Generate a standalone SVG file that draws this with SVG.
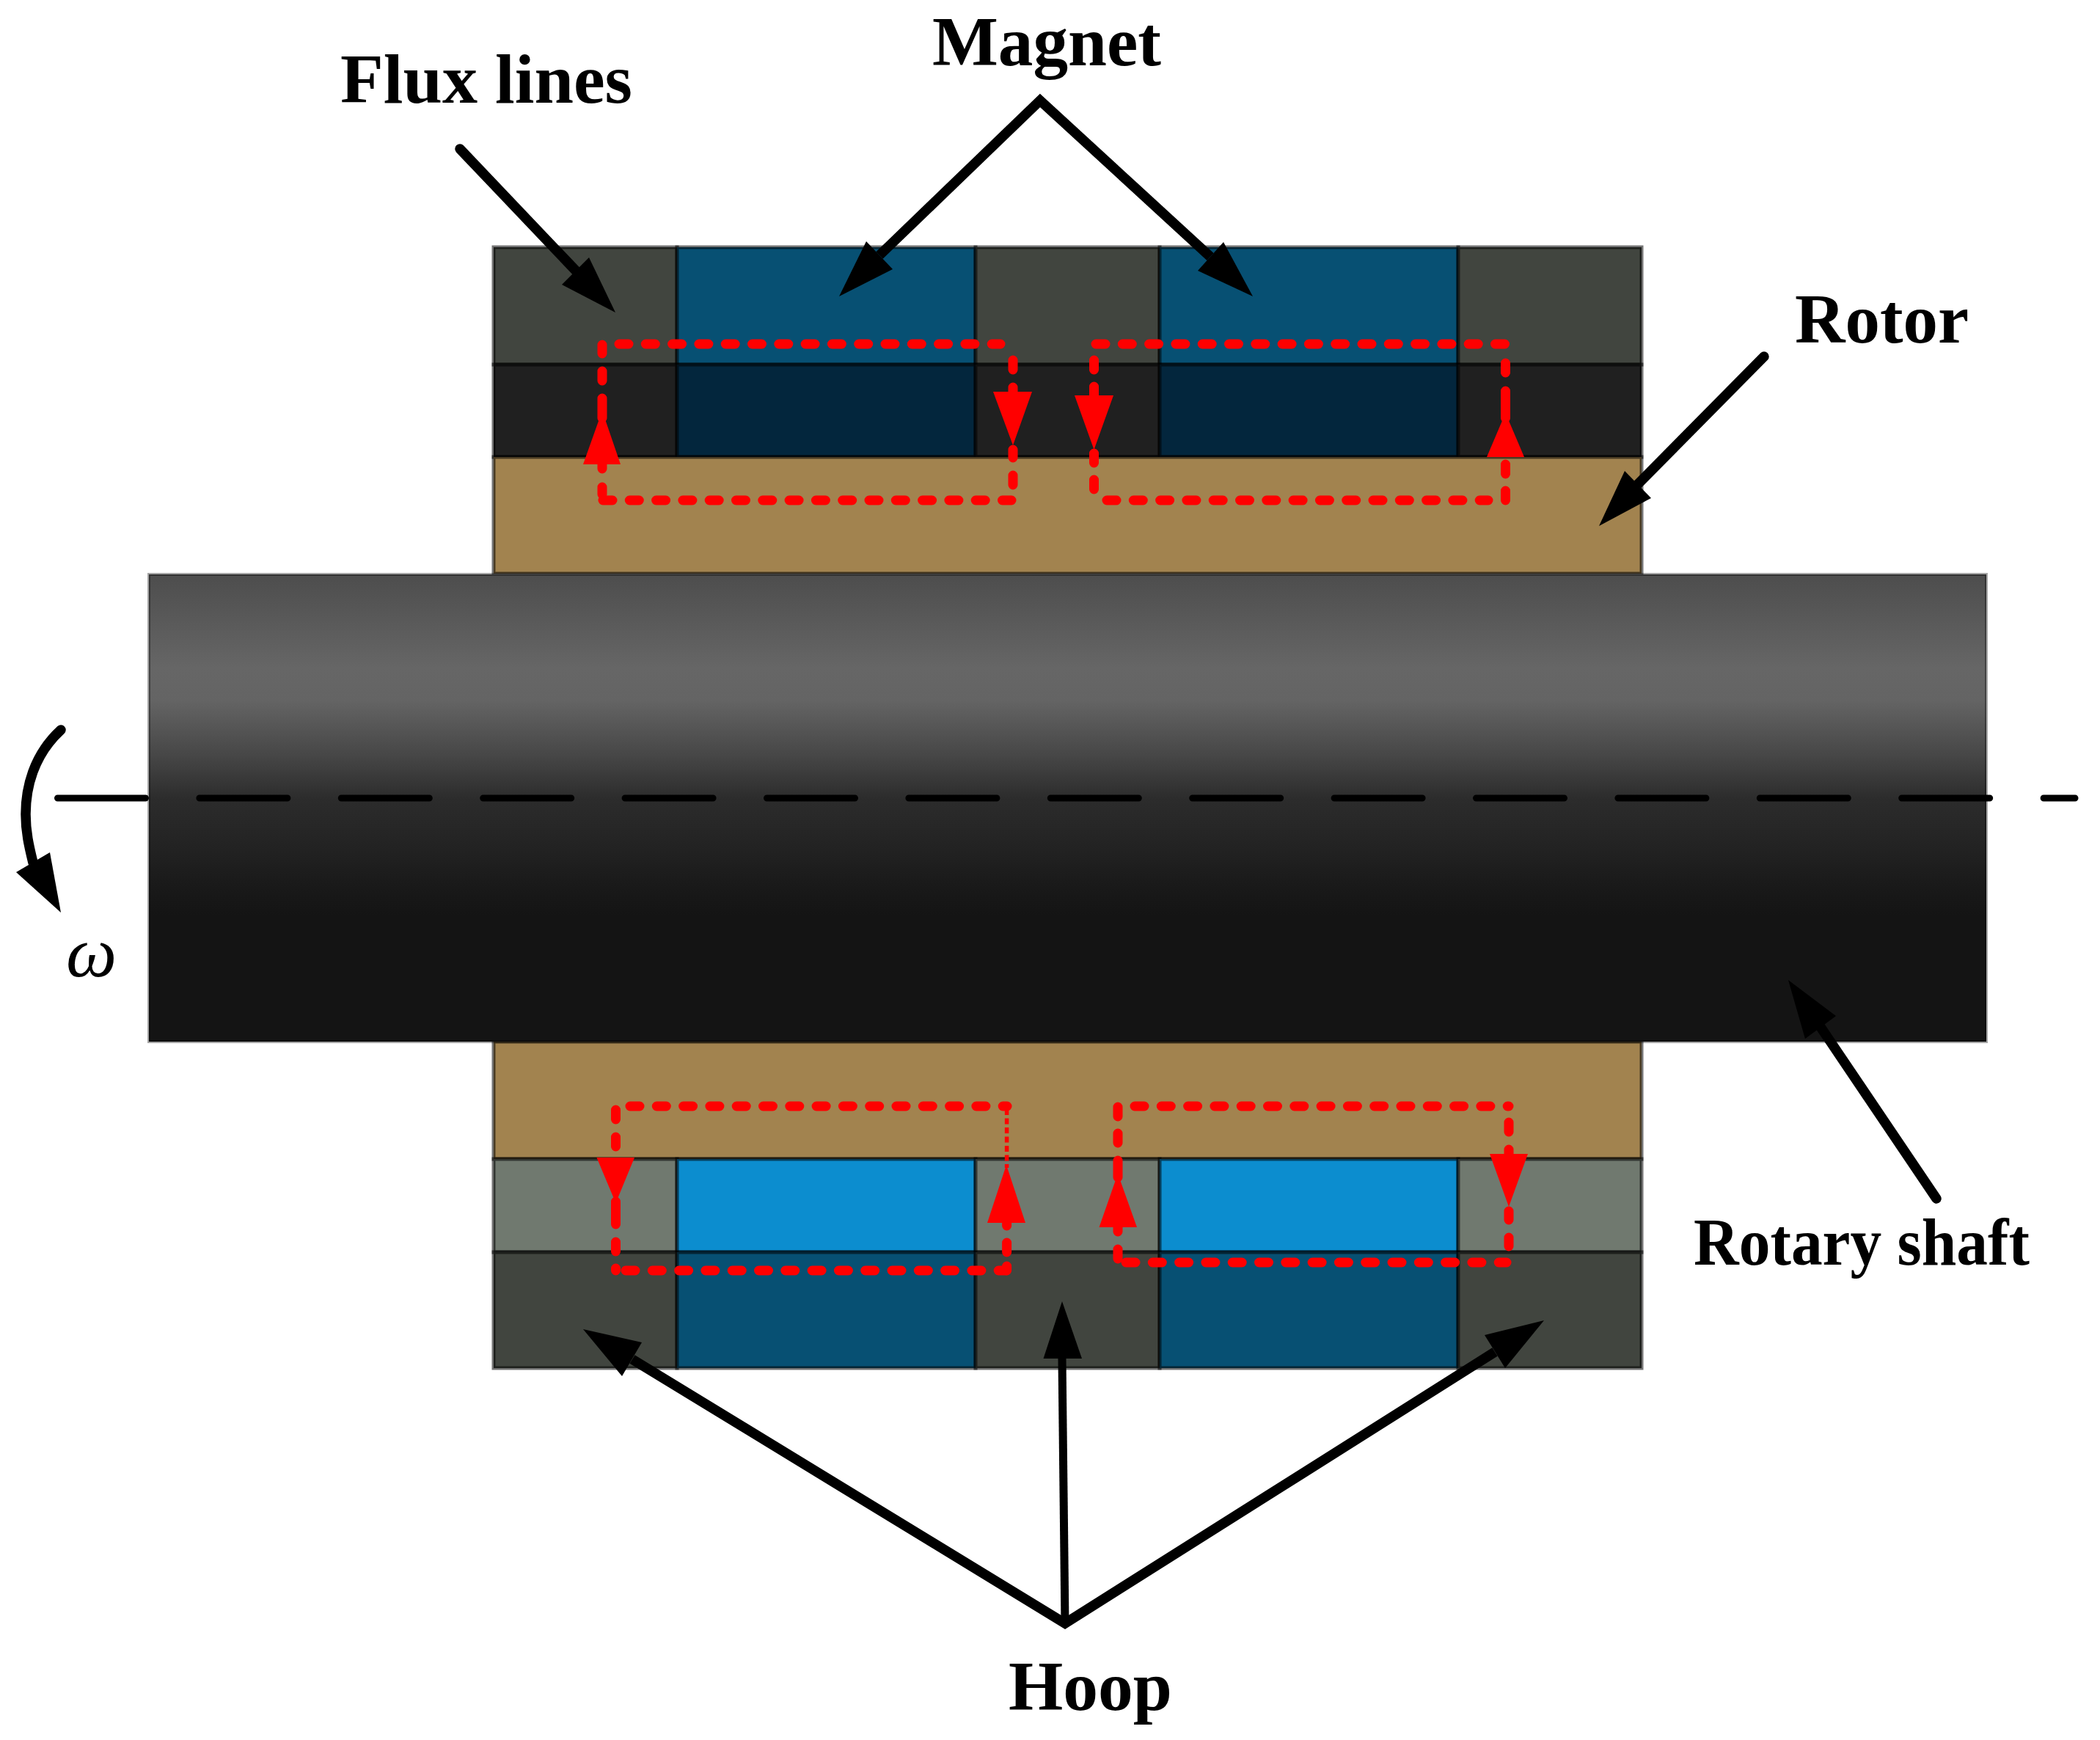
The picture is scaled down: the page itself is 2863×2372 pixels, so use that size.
<svg xmlns="http://www.w3.org/2000/svg" width="2863" height="2372" viewBox="0 0 2863 2372">
<style>
.b{stroke:#000;stroke-opacity:.55;stroke-width:5}
.hoop{fill:#41453f}.mag{fill:#075073}
.hoopD{fill:#202020}.magD{fill:#03263d}
.hoopL{fill:#70796f}.magL{fill:#0c8dcf}
.rotor{fill:#a2834f}
.flux{fill:none;stroke:#f00;stroke-width:13;stroke-linecap:round;stroke-dasharray:13 23.3}
.seg{fill:none;stroke:#f00;stroke-width:13;stroke-linecap:round}
.fine{fill:none;stroke:#f00;stroke-width:5.5;stroke-dasharray:8 4.5}
.rh{fill:#f00}
.ln{fill:none;stroke:#000;stroke-width:13.5;stroke-linecap:round;stroke-linejoin:miter}
.ah{fill:#000}
.axis{fill:none;stroke:#000;stroke-width:9;stroke-linecap:round;stroke-dasharray:120 73.4}
.t{font-family:"Liberation Serif","Times New Roman",serif;font-weight:bold;font-size:96px;fill:#000}
.w{font-family:"Liberation Serif","Times New Roman",serif;font-style:italic;font-size:98px;fill:#000}
</style>
<defs>
<linearGradient id="sg" gradientUnits="userSpaceOnUse" x1="0" y1="783" x2="0" y2="1420">
<stop offset="0" stop-color="#4d4d4d"/>
<stop offset=".2" stop-color="#666"/>
<stop offset=".27" stop-color="#646464"/>
<stop offset=".39" stop-color="#464646"/>
<stop offset=".48" stop-color="#2c2c2c"/>
<stop offset=".59" stop-color="#222"/>
<stop offset=".66" stop-color="#1a1a1a"/>
<stop offset=".73" stop-color="#141414"/>
<stop offset="1" stop-color="#141414"/>
</linearGradient>
</defs>
<rect width="2863" height="2372" fill="#fff"/>

<g id="top-assembly">
<g id="top-hoop" class="b">
<rect class="hoop" x="673" y="337" width="250" height="160"/>
<rect class="mag" x="923" y="337" width="407" height="160"/>
<rect class="hoop" x="1330" y="337" width="251" height="160"/>
<rect class="mag" x="1581" y="337" width="407" height="160"/>
<rect class="hoop" x="1988" y="337" width="250" height="160"/>
</g>
<g id="top-magnet" class="b">
<rect class="hoopD" x="673" y="497" width="250" height="126"/>
<rect class="magD" x="923" y="497" width="407" height="126"/>
<rect class="hoopD" x="1330" y="497" width="251" height="126"/>
<rect class="magD" x="1581" y="497" width="407" height="126"/>
<rect class="hoopD" x="1988" y="497" width="250" height="126"/>
</g>
<rect id="top-rotor" class="rotor b" x="673" y="623" width="1565" height="159"/>
</g>

<g id="bottom-assembly">
<rect id="bottom-rotor" class="rotor b" x="673" y="1420" width="1565" height="160"/>
<g id="bottom-magnet" class="b">
<rect class="hoopL" x="673" y="1580" width="250" height="127"/>
<rect class="magL" x="923" y="1580" width="407" height="127"/>
<rect class="hoopL" x="1330" y="1580" width="251" height="127"/>
<rect class="magL" x="1581" y="1580" width="407" height="127"/>
<rect class="hoopL" x="1988" y="1580" width="250" height="127"/>
</g>
<g id="bottom-hoop" class="b">
<rect class="hoop" x="673" y="1707" width="250" height="158"/>
<rect class="mag" x="923" y="1707" width="407" height="158"/>
<rect class="hoop" x="1330" y="1707" width="251" height="158"/>
<rect class="mag" x="1581" y="1707" width="407" height="158"/>
<rect class="hoop" x="1988" y="1707" width="250" height="158"/>
</g>
</g>

<rect id="shaft" x="203" y="783" width="2505" height="637" fill="url(#sg)" stroke="#000" stroke-opacity=".35" stroke-width="4"/>

<g id="flux-lines">
<path class="flux" d="M844 469H1364M822 682H1379"/>
<path class="seg" d="M821 470V482M821 506V519M821 543V570M821 626V639M821 664V674M1381 491V504M1381 528V545M1381 613V624M1381 648V661"/>
<path class="flux" d="M1494 469H2052M1509 682H2029"/>
<path class="seg" d="M1491.500 491V504M1491.500 527V545M1491.500 618V631M1491.500 654V667M2052.500 495V508M2052.500 533V570M2052.500 633V646M2052.500 669V682"/>
<path class="flux" d="M859 1508H1373M853 1732H1372"/>
<path class="seg" d="M839.500 1513V1526M839.500 1550V1563M839.500 1638V1669M839.500 1693V1706M839.500 1729V1732M1372.600 1732V1726M1372.600 1707V1694M1372.600 1671V1660"/>
<path class="fine" d="M1372.600 1512V1592"/>
<path class="flux" d="M1547 1508H2057M1535 1721H2054"/>
<path class="seg" d="M1524 1509V1522M1524 1545V1558M1524 1582V1605M1524 1668V1679M1524 1703V1716M2057 1530V1543M2057 1567V1580M2057 1651V1663M2057 1687V1699"/>
<polygon class="rh" points="821,560 846,633 795,633"/>
<polygon class="rh" points="1354,534 1407,534 1381,607"/>
<polygon class="rh" points="1465,539 1518,539 1491.500,613"/>
<polygon class="rh" points="2052.500,563 2078,623 2027,623"/>
<polygon class="rh" points="813.500,1578 865,1578 839.500,1640"/>
<polygon class="rh" points="1372,1588 1398,1667 1346,1667"/>
<polygon class="rh" points="1524,1600 1550,1673 1498.500,1673"/>
<polygon class="rh" points="2031,1573 2083,1573 2057,1645"/>
</g>

<g id="connectors">
<path class="axis" d="M78.500 1088H2829"/>
<path class="ln" d="M83 995C45 1030 35 1075 35 1110C35 1135 40 1155 45 1176"/>
<polygon class="ah" points="83,1244 68,1162 22,1189"/>

<path class="ln" d="M627 203L785 369"/>
<polygon class="ah" points="839,426 803,351 766,388"/>

<path class="ln" style="stroke-linecap:butt" d="M1199 348L1418 137L1650 350"/>
<polygon class="ah" points="1144,404 1181,329 1217,367"/>
<polygon class="ah" points="1708,404 1668,330 1633,369"/>

<path class="ln" d="M2405 486L2233 660"/>
<polygon class="ah" points="2180,717 2215,642 2251,679"/>

<path class="ln" d="M2640 1634L2482 1400"/>
<polygon class="ah" points="2438,1336 2503,1385 2461,1416"/>

<path class="ln" style="stroke-linecap:butt" d="M862 1853L1452 2213L2038 1843"/>
<path class="ln" style="stroke-width:11;stroke-linecap:butt" d="M1448 1852L1452 2214"/>
<polygon class="ah" points="795,1812 875,1830 848,1876"/>
<polygon class="ah" points="1448,1774 1475,1852 1422.500,1852"/>
<polygon class="ah" points="2105,1800 2024,1820 2052,1865"/>
</g>

<g id="labels">
<text id="label-flux" class="t" x="464" y="140" textLength="398" lengthAdjust="spacingAndGlyphs">Flux lines</text>
<text id="label-magnet" class="t" x="1271" y="89" textLength="312" lengthAdjust="spacingAndGlyphs">Magnet</text>
<text id="label-rotor" class="t" x="2447" y="467" textLength="237" lengthAdjust="spacingAndGlyphs">Rotor</text>
<text id="label-shaft" class="t" style="font-size:90px" x="2309" y="1724" textLength="458" lengthAdjust="spacingAndGlyphs">Rotary shaft</text>
<text id="label-hoop" class="t" x="1375" y="2331" textLength="223" lengthAdjust="spacingAndGlyphs">Hoop</text>
<text id="label-omega" class="w" x="90" y="1331">ω</text>
</g>
</svg>
